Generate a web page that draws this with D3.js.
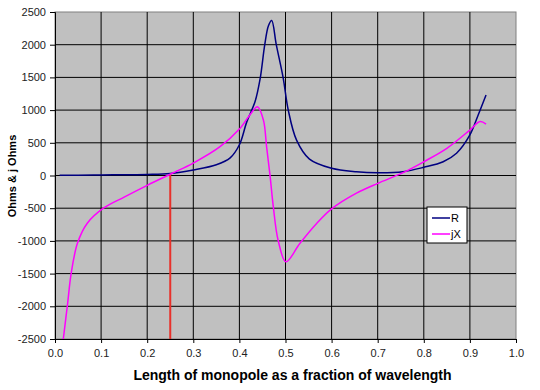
<!DOCTYPE html>
<html>
<head>
<meta charset="utf-8">
<script src="https://cdn.jsdelivr.net/npm/d3@7"></script>
<style>
	body { margin: 0; background: #fff; }
	text { font-family: 'Liberation Sans', Arial, sans-serif; }
</style>
</head>
<body>
<svg id="chart" width="540" height="390"></svg>
<script>
// R curve (ohms)
const rLen = [0.01, 0.05, 0.1, 0.15, 0.2, 0.25, 0.3, 0.35, 0.38, 0.4, 0.416, 0.434, 0.445, 0.455, 0.463, 0.47, 0.48, 0.495, 0.506, 0.524, 0.552, 0.6, 0.654, 0.7, 0.755, 0.8, 0.842, 0.871, 0.9, 0.918, 0.935];
const rVal = [3, 5, 8, 12, 16, 30, 85, 165, 270, 470, 820, 1130, 1480, 2000, 2290, 2370, 2000, 1490, 1000, 540, 250, 110, 58, 43, 58, 125, 210, 340, 620, 925, 1230];

// jX curve (j ohms)
const xLen = [0.018, 0.0275, 0.035, 0.049, 0.07, 0.105, 0.15, 0.2, 0.253, 0.3, 0.358, 0.4, 0.423, 0.439, 0.452, 0.459, 0.4666, 0.4736, 0.484, 0.501, 0.531, 0.568, 0.6, 0.654, 0.7, 0.755, 0.8, 0.85, 0.9, 0.922, 0.935];
const xVal = [-2500, -1950, -1500, -1030, -730, -500, -330, -150, 30, 190, 440, 710, 930, 1050, 850, 440, -10, -480, -990, -1320, -1040, -730, -510, -270, -120, 43, 210, 415, 695, 825, 785];

// quarter wave marker
const markLen = 0.25;
const markTop = 30;

const xTicks = [0, 0.1, 0.2, 0.3, 0.4, 0.5, 0.6, 0.7, 0.8, 0.9, 1.0];
const yTicks = [-2500, -2000, -1500, -1000, -500, 0, 500, 1000, 1500, 2000, 2500];

const seriesNames = ['R', 'jX'];

let svg = d3.select('#chart');
let plotL = 55, plotR = 516, plotT = 12, plotB = 339;

let x = d3.scaleLinear().domain([0, 1]).range([plotL, plotR]);
let y = d3.scaleLinear().domain([-2500, 2500]).range([plotB, plotT]);

// plot background
svg.append('rect')
	.attr('x', plotL).attr('y', plotT)
	.attr('width', plotR - plotL).attr('height', plotB - plotT)
	.attr('fill', '#c0c0c0')
	.attr('stroke', '#808080');

// grid
svg.append('g').selectAll('line').data(xTicks.slice(1, -1)).join('line')
	.attr('x1', d => x(d)).attr('x2', d => x(d))
	.attr('y1', plotT).attr('y2', plotB)
	.attr('stroke', '#000').attr('stroke-width', 1);
svg.append('g').selectAll('line').data(yTicks.slice(1, -1)).join('line')
	.attr('x1', plotL).attr('x2', plotR)
	.attr('y1', d => y(d)).attr('y2', d => y(d))
	.attr('stroke', '#000').attr('stroke-width', 1);

// axes
let xAxis = svg.append('g')
	.attr('transform', 'translate(0,' + plotB + ')')
	.call(d3.axisBottom(x).tickValues(xTicks).tickFormat(d3.format('.1f')).tickSize(4).tickPadding(6));
let yAxis = svg.append('g')
	.attr('transform', 'translate(' + plotL + ',0)')
	.call(d3.axisLeft(y).tickValues(yTicks).tickFormat(d => d).tickSize(5).tickPadding(4));

[xAxis, yAxis].forEach(a => {
	a.select('.domain').attr('stroke', '#000');
	a.selectAll('.tick line').attr('stroke', '#000');
	a.selectAll('.tick text').attr('fill', '#222').style('font-size', '11px');
});

// red marker at a quarter wavelength
svg.append('line')
	.attr('x1', x(markLen)).attr('x2', x(markLen))
	.attr('y1', y(-2500)).attr('y2', y(markTop))
	.attr('stroke', '#e8302a').attr('stroke-width', 2);

let line = d3.line().curve(d3.curveCatmullRom.alpha(0.5));

svg.append('path')
	.attr('d', line(rLen.map((d, i) => [x(d), y(rVal[i])])))
	.attr('fill', 'none').attr('stroke', '#000080').attr('stroke-width', 1.5);

svg.append('path')
	.attr('d', line(xLen.map((d, i) => [x(d), y(xVal[i])])))
	.attr('fill', 'none').attr('stroke', '#ff00ff').attr('stroke-width', 1.5);

// legend
let lg = svg.append('g').attr('transform', 'translate(427,207)');
lg.append('rect').attr('width', 40).attr('height', 36)
	.attr('fill', '#fff').attr('stroke', '#000').attr('stroke-width', 1);
const colors = ['#000080', '#ff00ff'];
seriesNames.forEach((name, i) => {
	lg.append('line')
		.attr('x1', 5).attr('x2', 23)
		.attr('y1', 11 + i * 16).attr('y2', 11 + i * 16)
		.attr('stroke', colors[i]).attr('stroke-width', 1.5);
	lg.append('text')
		.attr('x', 24).attr('y', 15 + i * 16)
		.style('font-size', '11px').attr('fill', '#000')
		.text(name);
});

// titles
svg.append('text')
	.attr('x', (plotL + plotR) / 2 + 7).attr('y', 380)
	.attr('text-anchor', 'middle')
	.style('font-size', '14px').style('font-weight', 'bold')
	.text('Length of monopole as a fraction of wavelength');

svg.append('text')
	.attr('transform', 'translate(16,176) rotate(-90)')
	.attr('text-anchor', 'middle')
	.style('font-size', '11px').style('font-weight', 'bold')
	.text('Ohms & j Ohms');
</script>
</body>
</html>
